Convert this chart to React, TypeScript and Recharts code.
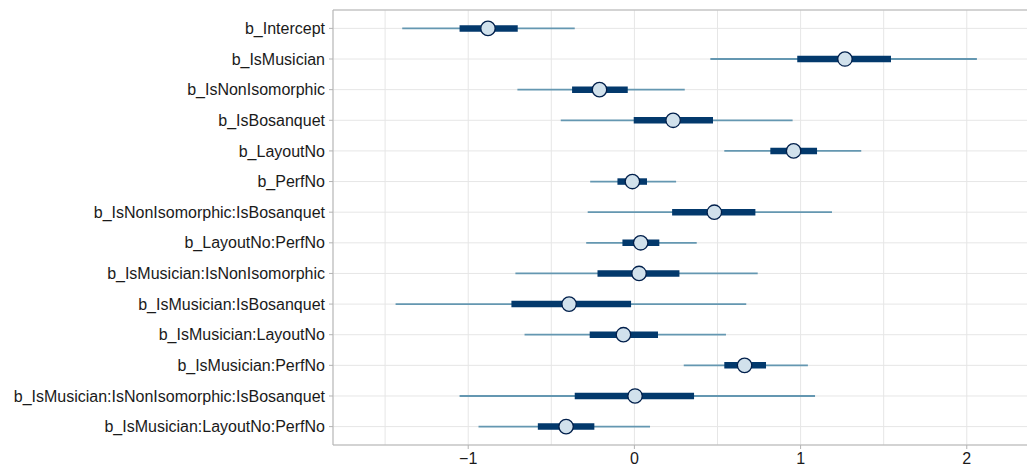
import React from "react";
import {
  ComposedChart,
  Scatter,
  ErrorBar,
  XAxis,
  YAxis,
  CartesianGrid,
  ReferenceLine,
} from "recharts";

const params = [
  "b_Intercept",
  "b_IsMusician",
  "b_IsNonIsomorphic",
  "b_IsBosanquet",
  "b_LayoutNo",
  "b_PerfNo",
  "b_IsNonIsomorphic:IsBosanquet",
  "b_LayoutNo:PerfNo",
  "b_IsMusician:IsNonIsomorphic",
  "b_IsMusician:IsBosanquet",
  "b_IsMusician:LayoutNo",
  "b_IsMusician:PerfNo",
  "b_IsMusician:IsNonIsomorphic:IsBosanquet",
  "b_IsMusician:LayoutNo:PerfNo",
];

const medians = [-0.881, 1.267, -0.21, 0.233, 0.958, -0.012, 0.481, 0.038, 0.028, -0.393, -0.066, 0.663, 0.004, -0.411];
const innerLo = [-1.052, 0.98, -0.375, -0.004, 0.818, -0.102, 0.227, -0.072, -0.222, -0.74, -0.269, 0.541, -0.359, -0.581];
const innerHi = [-0.702, 1.544, -0.04, 0.473, 1.099, 0.076, 0.728, 0.15, 0.271, -0.02, 0.142, 0.792, 0.359, -0.241];
const outerLo = [-1.397, 0.457, -0.704, -0.443, 0.541, -0.266, -0.281, -0.29, -0.716, -1.437, -0.661, 0.297, -1.052, -0.938];
const outerHi = [-0.359, 2.061, 0.303, 0.952, 1.365, 0.251, 1.189, 0.375, 0.742, 0.673, 0.551, 1.044, 1.087, 0.094];

const xTicks = [-1.5, -1, -0.5, 0, 0.5, 1, 1.5, 2];

const data = params.map((name, i) => ({
  name,
  row: i + 1,
  m: medians[i],
  inner: [medians[i] - innerLo[i], innerHi[i] - medians[i]],
  outer: [medians[i] - outerLo[i], outerHi[i] - medians[i]],
}));

const textColor = "#1a1a1a";
const axisColor = "#b3b3b3";

function XTick(props: any) {
  const { x, y, payload } = props;
  if (!Number.isInteger(payload.value)) return null;
  const label = payload.value < 0 ? `\u2212${Math.abs(payload.value)}` : `${payload.value}`;
  return (
    <g>
      <line x1={x} x2={x} y1={y - 8} y2={y - 4} stroke={axisColor} />
      <text x={x} y={y} dy="0.71em" textAnchor="middle" fill={textColor} fontSize={16}>
        {label}
      </text>
    </g>
  );
}

function Point(props: any) {
  const { cx, cy } = props;
  return <circle cx={cx} cy={cy} r={7.2} fill="#d1e1ec" stroke="#011f4b" strokeWidth={1.3} />;
}

export default function App() {
  // the reference is cropped on the right, so the plot runs past the window edge
  return (
    <div
      style={{
        position: "absolute",
        left: 0,
        top: 0,
        width: 1027,
        height: 468,
        overflow: "hidden",
        fontFamily: "'Liberation Sans', Arial, sans-serif",
      }}
    >
      <ComposedChart
        width={1060}
        height={468}
        data={data}
        margin={{ top: 10, right: 0, bottom: 0, left: 0 }}
      >
        <CartesianGrid stroke="#e6e6e6" strokeWidth={1} />
        <XAxis
          type="number"
          dataKey="m"
          domain={[-1.8136, 2.561]}
          allowDataOverflow
          ticks={xTicks}
          interval={0}
          height={23}
          tickSize={4}
          tickMargin={4}
          tickLine={false}
          axisLine={{ stroke: axisColor }}
          tick={<XTick />}
        />
        <YAxis
          type="number"
          dataKey="row"
          domain={[0.4, 14.6]}
          reversed
          allowDataOverflow
          ticks={params.map((_, i) => i + 1)}
          interval={0}
          width={333}
          tickSize={4}
          tickMargin={4}
          tickFormatter={(v: number) => params[v - 1]}
          tick={{ fill: textColor, fontSize: 16 }}
          tickLine={{ stroke: axisColor }}
          axisLine={{ stroke: axisColor }}
        />
        <ReferenceLine y={0.4} stroke={axisColor} />
        <Scatter data={data} shape={<Point />} isAnimationActive={false}>
          <ErrorBar dataKey="outer" direction="x" width={0} stroke="#6497b1" strokeWidth={1.8} />
          <ErrorBar dataKey="inner" direction="x" width={0} stroke="#03396c" strokeWidth={6.5} />
        </Scatter>
      </ComposedChart>
    </div>
  );
}
